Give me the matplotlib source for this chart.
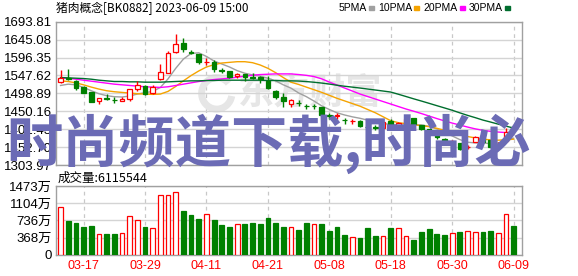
import matplotlib.pyplot as plt
from matplotlib.patches import Rectangle, Arc
import numpy as np

plt.rcParams['font.family'] = ['Liberation Sans', 'Noto Sans CJK SC']

title = "猪肉概念[BK0882] 2023-06-09 15:00"
vol_title = "成交量:6115544"
watermark = "时尚频道下载,时尚必"

# daily candles, 60 trading days (2023-03-14 .. 2023-06-09)
open_ = [1529, 1542, 1533.8, 1515.9, 1501.5, 1478.2, 1486.2, 1481.7, 1478.2, 1483.5,
         1509.6, 1517.7, 1498.8, 1538.3, 1555.3, 1610.1, 1635.2, 1611, 1605.6, 1583,
         1585, 1563, 1558.9, 1546.4, 1550.9, 1543, 1543.7, 1533.8, 1506, 1489.8,
         1470.1, 1473.5, 1464.5, 1464.5, 1461.2, 1439.5, 1438.5, 1427.1, 1422.6, 1422.6,
         1408.3, 1407, 1405, 1424, 1408.3, 1417.3, 1430.7, 1411.9, 1401.1, 1386,
         1376, 1367.5, 1362.6, 1352, 1367, 1378.7, 1371.5, 1356, 1369.7, 1407.4]
high = [1562, 1564, 1535.6, 1517.6, 1502, 1487, 1497.9, 1488, 1488, 1511.4,
        1532.9, 1522.1, 1520.3, 1577.8, 1613.7, 1661.2, 1650.5, 1616.4, 1607, 1593.9,
        1588.5, 1568.8, 1560, 1555.3, 1551.8, 1555.3, 1546.4, 1546.4, 1509, 1499.7,
        1482.6, 1480, 1470.2, 1470, 1462, 1446, 1446, 1432.5, 1429.8, 1426.2,
        1408.5, 1412, 1423, 1428, 1420.9, 1429.8, 1431.5, 1413, 1402, 1388,
        1378.7, 1371.5, 1364, 1358, 1383.2, 1380, 1373, 1366, 1403.8, 1409]
low = [1527, 1536, 1507.8, 1498.8, 1475, 1471, 1480.8, 1471.9, 1477, 1477.3,
       1505.1, 1495.2, 1497, 1536.5, 1553.6, 1607.4, 1610.1, 1604.7, 1579.6, 1575.1,
       1558.1, 1553.6, 1540.1, 1540.1, 1533.8, 1537.4, 1525.7, 1510.5, 1484.4, 1461.1,
       1461.1, 1465.7, 1456.7, 1455, 1429.8, 1429.8, 1428, 1414.6, 1416.4, 1408.3,
       1392.2, 1400, 1403, 1411.9, 1407, 1410.1, 1411.9, 1398.4, 1385, 1375,
       1365.2, 1359, 1345.5, 1347, 1365.2, 1363.5, 1351, 1352, 1368, 1398]
close = [1542, 1538, 1513.2, 1500.6, 1476.4, 1486.2, 1484.4, 1480, 1484.4, 1509.6,
         1520.3, 1497, 1515.9, 1558.1, 1607.4, 1634.3, 1620.9, 1609, 1585, 1585,
         1565.2, 1561, 1543.7, 1552.7, 1543.7, 1541, 1537.4, 1513.2, 1488, 1479.1,
         1480.8, 1472.5, 1463.4, 1463.4, 1438.8, 1438.5, 1439.5, 1426, 1423.6, 1410.1,
         1406.5, 1405, 1420, 1413, 1419.1, 1428, 1414.6, 1401.1, 1387.7, 1380,
         1367, 1368.5, 1347.3, 1354, 1380.5, 1367, 1353.6, 1362, 1394.8, 1401.1]

ma5 = [1520.3, 1523.9, 1522.1, 1515.0, 1506.0, 1497.9, 1492.5, 1489.8, 1488.9, 1491.6,
       1497.0, 1500.6, 1504.2, 1515.0, 1538.3, 1567.0, 1592.1, 1607.4, 1609.2, 1599.3,
       1586.7, 1578.7, 1570.6, 1560.7, 1553.6, 1549.1, 1545.5, 1540.1, 1532.9, 1522.1,
       1513.2, 1500, 1490, 1478, 1465, 1455, 1446, 1440, 1435, 1431,
       1426, 1421, 1417, 1414, 1412, 1412, 1413, 1413, 1409, 1402,
       1392, 1383, 1373, 1366, 1364, 1364, 1362, 1364, 1371, 1377]
ma10 = [1532.9, 1531.1, 1527.5, 1522.1, 1515.9, 1510.5, 1506.0, 1503.3, 1501.5, 1499.7,
        1497.9, 1497.0, 1496.1, 1497.0, 1504.2, 1517.7, 1532.9, 1547.3, 1559.8, 1570.6,
        1576.9, 1581.4, 1583.2, 1585.0, 1585.0, 1582.3, 1576.0, 1567.0, 1555.3, 1541.9,
        1529.3, 1523.1, 1515.9, 1508.8, 1501.6, 1493.5, 1485.4, 1478.3, 1471.1, 1463.9,
        1454.9, 1446.0, 1435.2, 1424.4, 1419.1, 1416.4, 1413.7, 1411.0, 1408.3, 1403.8,
        1398.4, 1393.0, 1386.8, 1381.4, 1377.8, 1374.2, 1372.4, 1371.5, 1372.4, 1374.2]
ma20 = [1540.1, 1540.1, 1537.4, 1534.7, 1532.0, 1529.3, 1526.6, 1523.9, 1522.1, 1520.3,
        1518.5, 1516.8, 1515.9, 1515.0, 1516.8, 1520.3, 1523.9, 1527.5, 1531.1, 1533.8,
        1536.5, 1538.3, 1540.1, 1542.8, 1545.5, 1548.2, 1550.0, 1550.9, 1551.8, 1551.8,
        1551.8, 1550.1, 1547.9, 1544.6, 1538.4, 1529.6, 1521.5, 1513.3, 1505.2, 1497.0,
        1490.2, 1483.4, 1476.6, 1469.8, 1463.0, 1456.2, 1450.2, 1443.9, 1437.1, 1430.3,
        1424.0, 1418.0, 1412.6, 1407.2, 1402.3, 1398.2, 1395.5, 1393.6, 1392.2, 1392.2]
ma30 = [1541.9, 1541.0, 1540.1, 1539.2, 1537.4, 1534.7, 1532.9, 1531.1, 1531.1, 1530.2,
        1530.2, 1529.3, 1529.3, 1529.3, 1530.2, 1531.1, 1532.0, 1532.9, 1532.9, 1533.8,
        1533.8, 1534.7, 1534.7, 1534.7, 1534.7, 1534.7, 1534.7, 1533.8, 1533.8, 1532.9,
        1532.9, 1532.4, 1531.0, 1529.1, 1526.9, 1524.2, 1520.9, 1518.2, 1515.8, 1513.3,
        1510.6, 1507.9, 1505.2, 1502.4, 1496.4, 1490.2, 1483.9, 1477.9, 1471.7, 1465.4,
        1459.2, 1452.9, 1445.8, 1439.0, 1432.8, 1426.2, 1420.8, 1415.1, 1409.7, 1404.4]

# volume in 万
volume = [1018, 720, 677, 591, 613, 442, 442, 442, 463, 826,
          741, 591, 563, 1275, 1275, 1353, 933, 854, 762, 869,
          741, 634, 591, 649, 662, 677, 662, 783, 677, 591,
          585, 527, 677, 655, 662, 506, 591, 421, 371, 357,
          570, 399, 399, 570, 570, 399, 314, 485, 549, 442,
          421, 463, 485, 506, 485, 485, 506, 463, 869, 611.6]
vol_up = [1, 0, 0, 0, 0, 1, 0, 0, 1, 1, 1, 0, 1, 1, 1, 1, 0, 0, 0, 1,
          0, 0, 0, 1, 0, 0, 0, 0, 0, 0, 1, 0, 0, 1, 0, 0, 0, 0, 1, 0,
          0, 0, 1, 0, 1, 1, 0, 0, 0, 0, 0, 1, 0, 1, 1, 0, 0, 1, 1, 0]

date_idx = [3, 11, 19, 27, 35, 43, 51, 59]
date_labels = ["03-17", "03-29", "04-11", "04-21", "05-08", "05-18", "05-30", "06-09"]
price_ticks = [1303.97, 1352.70, 1401.43, 1450.16, 1498.89, 1547.62, 1596.35, 1645.08, 1693.81]
vol_ticks = [0, 368, 736, 1104, 1473]
vol_labels = ["0", "368万", "736万", "1104万", "1473万"]
ma_names = ["5PMA", "10PMA", "20PMA", "30PMA"]

RED = "#ff0000"
GREEN = "#008000"
GRID = "#d4d4d4"
SPINE = "#a0a0a0"
ma_colors = ["#a0a0a0", "#f5a300", "#ff00ff", "#006e2e"]

open_ = np.array(open_)
high = np.array(high)
low = np.array(low)
close = np.array(close)
volume = np.array(volume)
vol_up = np.array(vol_up, dtype=bool)
x = np.arange(len(close))
up = close >= open_

fig = plt.figure(figsize=(5.78, 2.76), dpi=100)
W, H = 578, 276
ax = fig.add_axes([56 / W, 1 - 165 / H, 466 / W, 143.3 / H])
axv = fig.add_axes([56 / W, 1 - 254.7 / H, 466 / W, 68.7 / H])

for a in (ax, axv):
    a.set_xlim(-0.59, 60.09)
    for s in a.spines.values():
        s.set_color(SPINE)
        s.set_linewidth(1)
    a.tick_params(length=0, colors="black", labelsize=9.5, pad=3)
    for d in date_idx:
        a.axvline(d, color="#c8c8c8", lw=0.9, ls=(0, (3, 3)), zorder=1)
    a.set_xticks(date_idx)

# price panel
ax.set_ylim(price_ticks[0], price_ticks[-1])
ax.set_yticks(price_ticks)
ax.set_yticklabels([f"{t:.2f}" for t in price_ticks])
ax.grid(axis="y", color=GRID, lw=1, zorder=1)
ax.set_xticklabels([])

# faint site logo behind the candles
ax.text(0.39, 0.5, "东方财富", transform=ax.transAxes, color="#e6e6e6", fontsize=26,
        fontweight="bold", family=["Noto Sans CJK SC"], va="center", ha="left", zorder=1.5)
ax.add_patch(Arc((0.345, 0.5), 0.065, 0.22, theta1=70, theta2=330, lw=5,
                 color="#e6e6e6", transform=ax.transAxes, zorder=1.5))

for vals, c in zip([ma5, ma10, ma20, ma30], ma_colors):
    ax.plot(x, vals, color=c, lw=1, zorder=2)

ax.vlines(x, low, high, colors=np.where(up, RED, GREEN), lw=1, zorder=3)
ax.bar(x[up], (close - open_)[up], bottom=open_[up], width=0.6,
       facecolor="white", edgecolor=RED, lw=0.9, zorder=4)
ax.bar(x[~up], (open_ - close)[~up], bottom=close[~up], width=0.6,
       facecolor=GREEN, edgecolor=GREEN, lw=0.9, zorder=4)

# volume panel
axv.set_ylim(0, vol_ticks[-1])
axv.set_yticks(vol_ticks)
axv.set_yticklabels(vol_labels)
axv.grid(axis="y", color=GRID, lw=1, zorder=1)
axv.bar(x[vol_up], volume[vol_up], width=0.62, facecolor="white",
        edgecolor=RED, lw=0.9, zorder=3)
axv.bar(x[~vol_up], volume[~vol_up], width=0.62, facecolor=GREEN,
        edgecolor=GREEN, lw=0.9, zorder=3)
axv.set_xticklabels(date_labels, color=RED, fontsize=9)
axv.tick_params(axis="x", pad=4)

# header texts
fig.text(56 / W, 1 - 8 / H, title, fontsize=8.5, va="center", ha="left",
         family=["Noto Sans CJK SC"])
fig.text(58 / W, 1 - 178 / H, vol_title, fontsize=9, va="center", ha="left",
         family=["Noto Sans CJK SC"])

lx = 339
for name, c in zip(ma_names, ma_colors):
    t = fig.text(lx / W, 1 - 8 / H, name, fontsize=7.5, va="center", ha="left")
    fig.canvas.draw()
    bb = t.get_window_extent()
    mx = bb.x1 + 2
    fig.add_artist(Rectangle((mx / W, 1 - 9.5 / H), 5 / W, 3 / H, color=c,
                             transform=fig.transFigure))
    lx = mx + 9

fig.text(6 / W, 1 - 144 / H, watermark, fontsize=40.5, fontweight="bold",
         color="#6b6bb5", va="center", ha="left", family=["Noto Sans CJK SC"],
         zorder=10)

fig.savefig("out.png", dpi=100)
